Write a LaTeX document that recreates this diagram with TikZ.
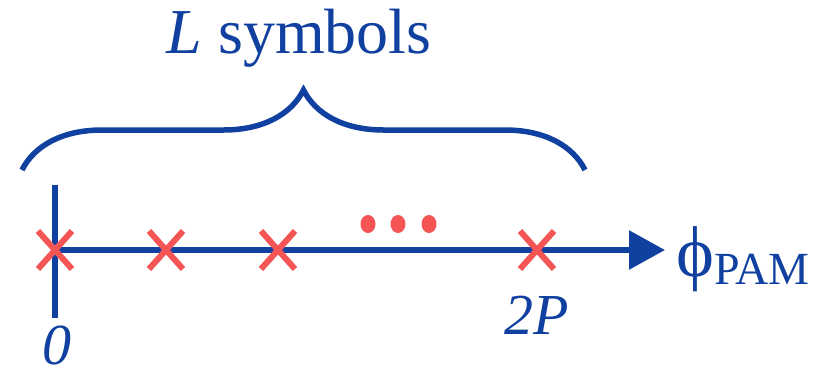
\documentclass[tikz,border=0pt]{standalone}
\usepackage{fontspec}
\setmainfont{Liberation Serif}
\usetikzlibrary{shapes.misc,shapes.geometric,decorations.pathreplacing,arrows.meta}
\definecolor{axblue}{RGB}{16,64,160}
\definecolor{mred}{RGB}{245,85,85}
\begin{document}
\begin{tikzpicture}[x=1pt,y=-1pt,
  xmark/.style={cross out,draw=mred,line width=6pt,minimum width=28pt,minimum height=32pt,inner sep=0pt},
  dotm/.style={ellipse,fill=mred,minimum width=15pt,minimum height=18pt,inner sep=0pt},
  lbl/.style={text=axblue,inner sep=0pt,font=\fontsize{60}{66}\selectfont}]
\useasboundingbox (0,0) rectangle (825,376);
% axes
\coordinate (vtop) at (55,185);
\coordinate (vbot) at (55,318);
\coordinate (origin) at (55,250);
\coordinate (tip) at (665,250);
\draw[axblue,line width=6pt] (vtop) -- (vbot);
\draw[axblue,line width=6pt,-{Triangle[length=36pt,width=38pt]}] (origin) -- (tip);
% brace
\coordinate (bl) at (22,170);
\coordinate (br) at (585,170);
\draw[axblue,line width=5.5pt,decorate,decoration={brace,amplitude=80pt}] (bl) -- (br);
% symbols
\node[xmark] (x0) at (55,250) {};
\node[xmark] (x1) at (166,250) {};
\node[xmark] (x2) at (278,250) {};
\node[xmark] (x3) at (537,250) {};
\node[dotm] (d1) at (368,224) {};
\node[dotm] (d2) at (398,224) {};
\node[dotm] (d3) at (429,224) {};
% labels
\node[lbl,font=\fontsize{64}{70}\selectfont] (title) at (299,38) {\textit{L} symbols};
\node[lbl,anchor=base,font=\fontsize{58}{63}\selectfont] (zero) at (57,364) {\textit{0}};
\node[lbl,anchor=base,font=\fontsize{58}{63}\selectfont] (twoP) at (537,334) {\textit{2P}};
\node[lbl,anchor=base west] (phi) at (676,276) {\fontsize{72}{78}\selectfont ϕ\raisebox{-8pt}{\fontsize{46}{50}\selectfont PAM}};
\end{tikzpicture}
\end{document}
